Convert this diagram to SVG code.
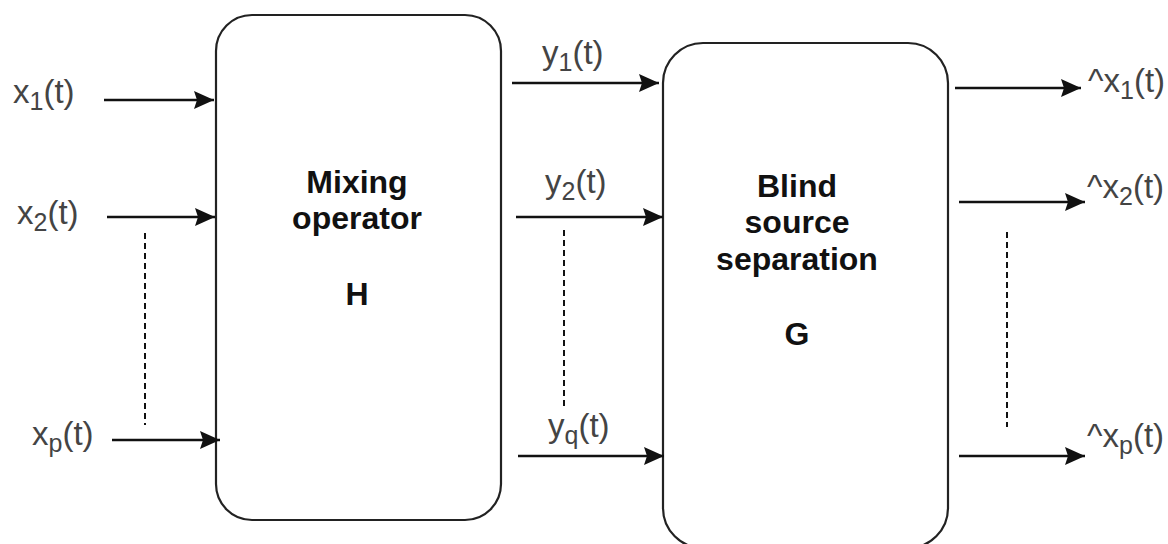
<svg xmlns="http://www.w3.org/2000/svg" width="1168" height="544" viewBox="0 0 1168 544">
<style>
.box{fill:#fff;stroke:#222;stroke-width:2.2}
.title{font-family:"Liberation Sans",Arial,sans-serif;font-size:32px;font-weight:bold;fill:#111;text-anchor:middle}
.lbl{font-family:"Liberation Sans",Arial,sans-serif;font-size:33px;fill:#444}
.sub{font-size:25px}
.arr{stroke:#111;stroke-width:2.5;fill:none;marker-end:url(#ah)}
.dash{stroke:#111;stroke-width:2;fill:none;stroke-dasharray:6 4}
</style>
<defs>
<marker id="ah" markerUnits="userSpaceOnUse" markerWidth="22" markerHeight="20" refX="20" refY="10" orient="auto" overflow="visible">
<path d="M0,1 L20,10 L0,19 L3,10 z" fill="#111"/>
</marker>
</defs>
<rect width="1168" height="544" fill="#fff"/>
<g id="mixing">
<rect class="box" x="216" y="15" width="285" height="505" rx="36" ry="36"/>
<text class="title" x="357" y="193">Mixing</text>
<text class="title" x="357" y="229">operator</text>
<text class="title" x="357" y="305">H</text>
</g>
<g id="bss">
<rect class="box" x="663" y="43" width="285" height="505" rx="40" ry="40"/>
<text class="title" x="797" y="197">Blind</text>
<text class="title" x="797" y="233">source</text>
<text class="title" x="797" y="270">separation</text>
<text class="title" x="797" y="345">G</text>
</g>
<g id="labels">
<text class="lbl" x="13" y="103">x<tspan class="sub" dy="7">1</tspan><tspan dy="-7">(t)</tspan></text>
<text class="lbl" x="17" y="224">x<tspan class="sub" dy="7">2</tspan><tspan dy="-7">(t)</tspan></text>
<text class="lbl" x="32" y="445">x<tspan class="sub" dy="7">p</tspan><tspan dy="-7">(t)</tspan></text>
<text class="lbl" x="542" y="64">y<tspan class="sub" dy="7">1</tspan><tspan dy="-7">(t)</tspan></text>
<text class="lbl" x="545" y="193">y<tspan class="sub" dy="7">2</tspan><tspan dy="-7">(t)</tspan></text>
<text class="lbl" x="548" y="437">y<tspan class="sub" dy="7">q</tspan><tspan dy="-7">(t)</tspan></text>
<text class="lbl" x="1088" y="92">^x<tspan class="sub" dy="7">1</tspan><tspan dy="-7">(t)</tspan></text>
<text class="lbl" x="1087" y="198">^x<tspan class="sub" dy="7">2</tspan><tspan dy="-7">(t)</tspan></text>
<text class="lbl" x="1087" y="447">^x<tspan class="sub" dy="7">p</tspan><tspan dy="-7">(t)</tspan></text>
</g>
<g id="connectors">
<line class="arr" x1="104" y1="100" x2="214" y2="100"/>
<line class="arr" x1="107" y1="217" x2="215" y2="217"/>
<line class="arr" x1="112" y1="440" x2="220" y2="440"/>
<line class="dash" x1="145" y1="233" x2="145" y2="425"/>
<line class="arr" x1="512" y1="83" x2="659" y2="83"/>
<line class="arr" x1="516" y1="217" x2="663" y2="217"/>
<line class="arr" x1="518" y1="456" x2="664" y2="456"/>
<line class="dash" x1="564" y1="230" x2="564" y2="410"/>
<line class="arr" x1="955" y1="88" x2="1081" y2="88"/>
<line class="arr" x1="959" y1="202" x2="1085" y2="202"/>
<line class="arr" x1="959" y1="456" x2="1085" y2="456"/>
<line class="dash" x1="1007" y1="232" x2="1007" y2="427"/>
</g>
</svg>
